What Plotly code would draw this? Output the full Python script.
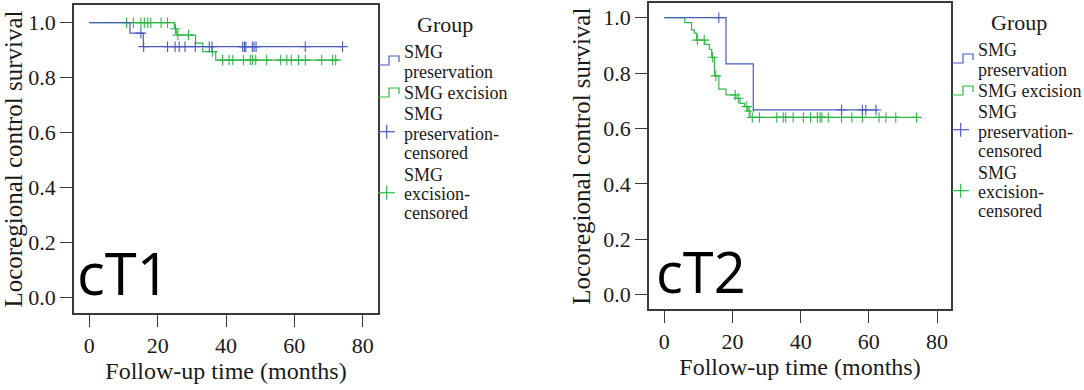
import plotly.graph_objects as go

W, H = 1084, 390

# ---------------- data ----------------
groups = ["SMG preservation", "SMG excision"]
colors = ["#4a5cc0", "#2fb847"]

# cT1 -- SMG preservation
t1_pres_event_t = [11.9, 15.8]
t1_pres_event_s = [0.962, 0.913]
t1_pres_end = 74.1
t1_pres_cens = [15.1, 15.9, 22.9, 25.1, 26.3, 28.0, 31.0, 35.1, 35.9, 44.9, 45.4,
                45.8, 47.7, 48.2, 48.8, 63.2, 74.1]
# cT1 -- SMG excision
t1_exc_event_t = [24.9, 25.6, 31.1, 33.2, 37.0]
t1_exc_event_s = [0.978, 0.955, 0.926, 0.895, 0.864]
t1_exc_end = 72.9
t1_exc_cens = [10.9, 12.9, 15.1, 16.1, 17.1, 18.0, 21.0, 22.9, 25.2, 25.9, 29.0, 36.0,
               39.0, 40.9, 42.0, 45.1, 47.1, 47.8, 48.7, 51.9, 56.0, 57.8, 59.1, 61.2,
               63.2, 68.0, 71.2, 72.1]

# cT2 -- SMG preservation
t2_pres_event_t = [18.1, 26.1]
t2_pres_event_s = [0.833, 0.667]
t2_pres_end = 62.7
t2_pres_cens = [16.0, 52.0, 58.1, 59.1, 62.1]
# cT2 -- SMG excision
t2_exc_event_t = [6.0, 8.0, 8.8, 9.5, 11.9, 13.2, 13.9, 14.7, 16.0, 18.1, 21.0, 22.2,
                  23.5, 24.5, 25.1]
t2_exc_event_s = [0.982, 0.956, 0.944, 0.919, 0.904, 0.886, 0.857, 0.790, 0.742, 0.721,
                  0.709, 0.691, 0.679, 0.663, 0.640]
t2_exc_end = 74.0
t2_exc_cens = [9.7, 11.7, 14.2, 15.1, 20.8, 21.7, 24.2, 24.9, 25.8, 27.9, 33.0, 34.9,
               35.6, 37.8, 40.8, 42.9, 44.9, 45.7, 46.2, 48.1, 52.0, 55.0, 58.1, 63.0,
               65.0, 67.9, 74.0]

x_ticks = [0, 20, 40, 60, 80]
y_ticks = [0.0, 0.2, 0.4, 0.6, 0.8, 1.0]
panel_labels = ["cT1", "cT2"]
x_title = "Follow-up time (months)"
y_title = "Locoregional control survival"
legend_title = "Group"
legend_lines = [["SMG", "preservation"], ["SMG excision"],
                ["SMG", "preservation-", "censored"], ["SMG", "excision-", "censored"]]


def km_at(t, ev_t, ev_s):
    s = 1.0
    for et, es in zip(ev_t, ev_s):
        if t >= et:
            s = es
    return s


fig = go.Figure()

panels = [
    ("x", "y", [(t1_pres_event_t, t1_pres_event_s, t1_pres_end, t1_pres_cens),
                (t1_exc_event_t, t1_exc_event_s, t1_exc_end, t1_exc_cens)]),
    ("x2", "y2", [(t2_pres_event_t, t2_pres_event_s, t2_pres_end, t2_pres_cens),
                  (t2_exc_event_t, t2_exc_event_s, t2_exc_end, t2_exc_cens)]),
]

for xa, ya, series in panels:
    for gi in [1, 0]:
        ev_t, ev_s, end, cens = series[gi]
        xs = [0] + list(ev_t) + [end]
        ys = [1.0] + list(ev_s) + [ev_s[-1]]
        fig.add_trace(go.Scatter(x=xs, y=ys, mode="lines", line=dict(color=colors[gi], width=1.2, shape="hv"),
                                 xaxis=xa, yaxis=ya, showlegend=False, name=groups[gi],
                                 hoverinfo="skip"))
        fig.add_trace(go.Scatter(x=cens, y=[km_at(c, ev_t, ev_s) for c in cens], mode="markers",
                                 marker=dict(symbol="cross-thin", size=7.5, line=dict(color=colors[gi], width=1.1)),
                                 xaxis=xa, yaxis=ya, showlegend=False, name=groups[gi] + "-censored"))

frame = "#3a3a3a"
tickfont = dict(family="Liberation Serif", size=22, color="#1a1a1a")


def xaxis_cfg(dom, rng):
    return dict(domain=dom, range=rng, tickvals=x_ticks, ticks="outside", ticklen=12, tickwidth=1.3,
                tickcolor=frame, showline=True, linecolor=frame, linewidth=1.5, mirror=True,
                showgrid=False, zeroline=False, tickfont=tickfont,
                title=dict(text=x_title, font=dict(family="Liberation Serif", size=24, color="#1a1a1a"),
                           standoff=4))


def yaxis_cfg(dom, rng):
    return dict(domain=dom, range=rng, tickvals=y_ticks, tickformat=".1f", ticks="outside", ticklen=12,
                tickwidth=1.3, tickcolor=frame, showline=True, linecolor=frame, linewidth=1.5, mirror=True,
                showgrid=False, zeroline=False, tickfont=tickfont,
                title=dict(text=y_title, font=dict(family="Liberation Serif", size=25, color="#1a1a1a"),
                           standoff=6))


fig.update_layout(
    width=W, height=H, margin=dict(l=0, r=0, t=0, b=0),
    paper_bgcolor="white", plot_bgcolor="white", showlegend=False,
    xaxis=xaxis_cfg([74 / W, 378 / W], [-4.48, 84.48]),
    yaxis=yaxis_cfg([1 - 313 / H, 1 - 5 / H], [-0.0556, 1.0644]),
    xaxis2=xaxis_cfg([649 / W, 951 / W], [-4.49, 84.1]),
    yaxis2=yaxis_cfg([1 - 309.3 / H, 1 - 3 / H], [-0.0527, 1.053]),
)
fig.layout.xaxis2.anchor = "y2"
fig.layout.yaxis2.anchor = "x2"


def P(x, y):
    return x / W, 1 - y / H


def path(pts):
    s = ""
    for i, (x, y) in enumerate(pts):
        px, py = P(x, y)
        s += ("M" if i == 0 else "L") + f"{px:.5f},{py:.5f} "
    return s.strip()


shapes = []
annotations = []
for k, (x0, dy, gx) in enumerate([(378, 0, 445), (952, -2, 1019)]):
    shapes.append(dict(type="path", xref="paper", yref="paper", line=dict(color=colors[0], width=1.2),
                       path=path([(x0, 65 + dy), (x0 + 11, 65 + dy), (x0 + 11, 56 + dy), (x0 + 21, 56 + dy),
                                  (x0 + 21, 62 + dy)])))
    shapes.append(dict(type="path", xref="paper", yref="paper", line=dict(color=colors[1], width=1.2),
                       path=path([(x0, 97 + dy), (x0 + 11, 97 + dy), (x0 + 11, 88 + dy), (x0 + 21, 88 + dy),
                                  (x0 + 21, 94 + dy)])))
    for ci, cy in [(0, 131.7), (1, 192.7)]:
        shapes.append(dict(type="path", xref="paper", yref="paper", line=dict(color=colors[ci], width=1.2),
                           path=path([(x0, cy + dy), (x0 + 17, cy + dy)])))
        shapes.append(dict(type="path", xref="paper", yref="paper", line=dict(color=colors[ci], width=1.2),
                           path=path([(x0 + 8.7, cy - 7 + dy), (x0 + 8.7, cy + 7 + dy)])))
    px, py = P(gx, 24 + dy)
    annotations.append(dict(text=legend_title, x=px, y=py, xref="paper", yref="paper", showarrow=False,
                            xanchor="center", yanchor="middle",
                            font=dict(family="Liberation Serif", size=22, color="#1a1a1a")))
    rows_y = [[52, 72], [93], [114, 134, 153], [175, 194, 213]]
    for lines, ys in zip(legend_lines, rows_y):
        for txt, yy in zip(lines, ys):
            px, py = P(x0 + 24, yy + dy)
            annotations.append(dict(text=txt, x=px, y=py, xref="paper", yref="paper", showarrow=False,
                                    xanchor="left", yanchor="middle",
                                    font=dict(family="Liberation Serif", size=18, color="#1a1a1a")))

for lab, (lx, ly), fs in zip(panel_labels, [(75, 300), (654, 297)], [58, 56]):
    px, py = P(lx, ly)
    annotations.append(dict(text=lab, x=px, y=py, xref="paper", yref="paper", showarrow=False,
                            xanchor="left", yanchor="bottom", yshift=-14,
                            font=dict(family="Open Sans", size=fs, color="black")))

fig.update_layout(shapes=shapes, annotations=annotations)
fig.write_html("out.html", config={"displayModeBar": False},
               post_script="document.body.style.margin='0px';")
